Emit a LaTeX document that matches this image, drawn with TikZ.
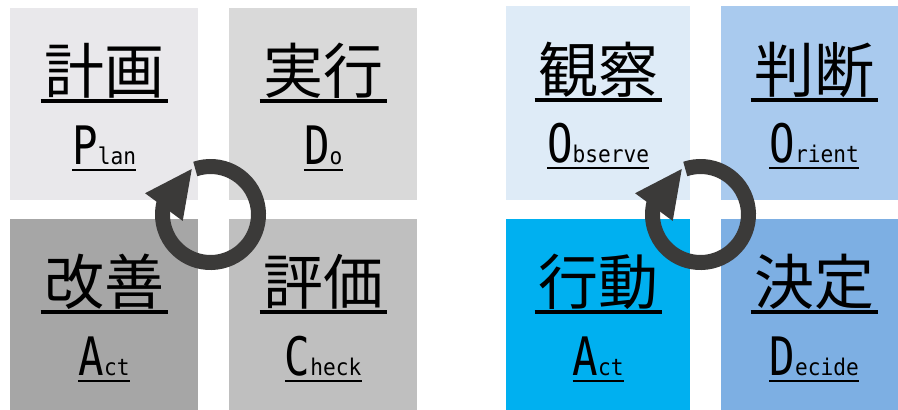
\documentclass[tikz,border=0pt]{standalone}
\usepackage{fontspec}
\usepackage{tikz}
\newfontfamily\jpfont{Noto Sans CJK JP}
\newfontfamily\capfont[FakeStretch=0.8]{DejaVu Sans Mono}
\newfontfamily\lowfont[FakeStretch=0.92]{DejaVu Sans Mono}
\definecolor{PlanGray}{HTML}{E9E8EB}
\definecolor{DoGray}{HTML}{D9D9D9}
\definecolor{CheckGray}{HTML}{BFBFBF}
\definecolor{ActGray}{HTML}{A6A6A6}
\definecolor{ObserveBlue}{HTML}{DEEBF7}
\definecolor{OrientBlue}{HTML}{A9CAEE}
\definecolor{DecideBlue}{HTML}{7DAFE3}
\definecolor{ActBlue}{HTML}{00B0F0}
\definecolor{CycleGray}{HTML}{3B3A39}
\newcommand{\capword}[2]{{\capfont\fontsize{53}{53}\selectfont #1}{\lowfont\fontsize{23}{23}\selectfont #2}}
\usetikzlibrary{positioning}

\begin{document}
\begin{tikzpicture}[
		x=1pt, y=1pt,
		box/.style={inner sep=0pt, minimum width=188pt, minimum height=191.5pt, anchor=north west},
		kanji/.style={inner sep=0pt, anchor=base, font=\jpfont\fontsize{60}{60}\selectfont},
		latin/.style={inner sep=0pt, anchor=base},
		ring/.style={draw=CycleGray, line width=15pt}
	]
		\useasboundingbox (0,0) rectangle (898,-410);

		% PDCA
		\node[box, fill=PlanGray] at(10,-8) (plan) {};
		\node[box, fill=DoGray] at(229,-8) (do) {};
		\node[box, fill=ActGray] at(10,-219) (act) {};
		\node[box, fill=CheckGray] at(229,-219) (check) {};

		% OODA
		\node[box, fill=ObserveBlue, minimum width=184pt, minimum height=193.5pt] at(506,-6) (obs) {};
		\node[box, fill=OrientBlue, minimum width=186pt, minimum height=193.5pt] at(721,-6) (ori) {};
		\node[box, fill=ActBlue, minimum width=184pt] at(506,-219) (actr) {};
		\node[box, fill=DecideBlue, minimum width=186pt] at(721,-219) (dec) {};

		\node[kanji] at([yshift=-85pt]plan.north) (plan-k) {計画};
		\node[kanji] at([yshift=-85pt]do.north) (do-k) {実行};
		\node[kanji] at([yshift=-85pt]act.north) (act-k) {改善};
		\node[kanji] at([yshift=-85pt]check.north) (check-k) {評価};
		\node[kanji] at([yshift=-86pt]obs.north) (obs-k) {観察};
		\node[kanji] at([yshift=-86pt]ori.north) (ori-k) {判断};
		\node[kanji] at([yshift=-85pt]actr.north) (actr-k) {行動};
		\node[kanji] at([yshift=-85pt]dec.north) (dec-k) {決定};

		\node[latin] at([yshift=-156pt]plan.north) (plan-e) {\capword{P}{lan}};
		\node[latin] at([yshift=-156pt]do.north) (do-e) {\capword{D}{o}};
		\node[latin] at([yshift=-156pt]act.north) (act-e) {\capword{A}{ct}};
		\node[latin] at([yshift=-156pt]check.north) (check-e) {\capword{C}{heck}};
		\node[latin] at([yshift=-156pt]obs.north) (obs-e) {\capword{O}{bserve}};
		\node[latin] at([yshift=-156pt]ori.north) (ori-e) {\capword{O}{rient}};
		\node[latin] at([yshift=-156pt]actr.north) (actr-e) {\capword{A}{ct}};
		\node[latin] at([yshift=-156pt]dec.north) (dec-e) {\capword{D}{ecide}};

		\foreach \n in {plan,do,act,check,obs,ori,actr,dec} {
			\draw[line width=3.5pt] ([shift={(-3.5,-8)}]\n-k.base west) -- ([shift={(3.5,-8)}]\n-k.base east);
			\draw[line width=2.2pt] ([shift={(0,-6)}]\n-e.base west) -- ([shift={(0,-6)}]\n-e.base east);
		}

		% cycle arrows
		\coordinate (pdca) at (210.5,-214.5);
		\coordinate (ooda) at (700.5,-214.5);
		\foreach \c in {pdca,ooda} {
			\draw[ring] ([shift={(108.5:48)}]\c) arc[start angle=108.5, end angle=-195, radius=48];
			\fill[CycleGray] ([shift={(112.4:49.2)}]\c) -- ([shift={(162:68.8)}]\c) -- ([shift={(193:28.5)}]\c) -- cycle;
		}

	\end{tikzpicture}
\end{document}
